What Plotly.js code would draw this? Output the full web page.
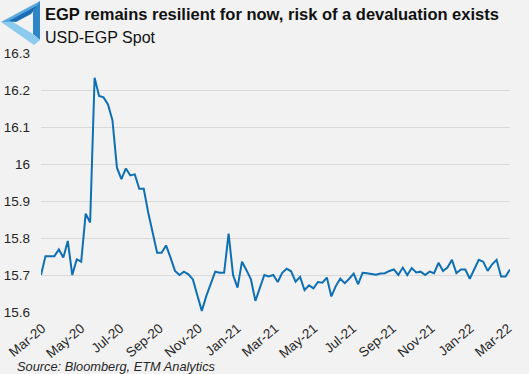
<!DOCTYPE html>
<html>
<head>
<meta charset="utf-8">
<script src="https://cdn.plot.ly/plotly-3.0.1.min.js"></script>
<style>
  html, body { margin: 0; padding: 0; background: #f2f2f2; }
  #chart { width: 529px; height: 374px; }
</style>
</head>
<body>
<div id="chart"></div>
<script>
// ---- Data (weekly USD-EGP spot) ----
const startDate = '2020-02-28';
const spotValues = [
  15.700, 15.751, 15.751, 15.751, 15.769, 15.747, 15.792, 15.700, 15.742, 15.736,
  15.866, 15.842, 16.233, 16.184, 16.180, 16.161, 16.118, 15.990, 15.959, 15.988,
  15.969, 15.972, 15.933, 15.933, 15.869, 15.810, 15.760, 15.760, 15.780, 15.747,
  15.711, 15.700, 15.709, 15.702, 15.688, 15.645, 15.603, 15.643, 15.675, 15.709,
  15.706, 15.706, 15.812, 15.700, 15.666, 15.736, 15.713, 15.688, 15.630, 15.666,
  15.700, 15.696, 15.700, 15.681, 15.706, 15.717, 15.710, 15.682, 15.695, 15.659,
  15.672, 15.664, 15.681, 15.679, 15.693, 15.642, 15.670, 15.690, 15.678, 15.690,
  15.704, 15.675, 15.706, 15.705, 15.703, 15.701, 15.704, 15.705, 15.711, 15.715,
  15.700, 15.720, 15.700, 15.719, 15.707, 15.709, 15.700, 15.709, 15.705, 15.733,
  15.711, 15.720, 15.741, 15.705, 15.715, 15.715, 15.690, 15.715, 15.741, 15.736,
  15.711, 15.729, 15.741, 15.696, 15.696, 15.715
];
const xTickVals = ['2020-03-01','2020-05-01','2020-07-01','2020-09-01','2020-11-01','2021-01-01',
                   '2021-03-01','2021-05-01','2021-07-01','2021-09-01','2021-11-01','2022-01-01','2022-03-01'];
const xTickText = ['Mar-20','May-20','Jul-20','Sep-20','Nov-20','Jan-21',
                   'Mar-21','May-21','Jul-21','Sep-21','Nov-21','Jan-22','Mar-22'];
const yTickVals = [15.6, 15.7, 15.8, 15.9, 16.0, 16.1, 16.2, 16.3];
const yTickText = ['15.6','15.7','15.8','15.9','16','16.1','16.2','16.3'];
const titleText = 'EGP remains resilient for now, risk of a devaluation exists';
const subtitleText = 'USD-EGP Spot';
const sourceText = 'Source: Bloomberg, ETM Analytics';

// weekly dates
const t0 = Date.parse(startDate + 'T00:00:00Z');
const dates = spotValues.map((v, i) => new Date(t0 + i * 7 * 86400000).toISOString().slice(0, 10));

// ---- Layout geometry ----
const W = 529, H = 374;
const M = { l: 41, r: 19, t: 53, b: 62 };
const pw = W - M.l - M.r, ph = H - M.t - M.b;
const px = x => (x - M.l) / pw;
const py = y => (H - M.b - y) / ph;

function pathFrom(pts) {
  return 'M ' + pts.map(p => px(p[0]).toFixed(4) + ',' + py(p[1]).toFixed(4)).join(' L ') + ' Z';
}
// logo: triangular frame in blue tones
const logoShapes = [
  { pts: [[1,22],[40,1],[40,8],[13,22]], color: '#5aa9de' },
  { pts: [[9,21],[38,5],[31,14],[16,22]], color: '#1a6db3' },
  { pts: [[40,1],[40,40],[33,34],[33,12]], color: '#2f86c6' },
  { pts: [[40,40],[34,45],[1,22],[13,22],[33,34]], color: '#8ccbef' }
].map(s => ({
  type: 'path', xref: 'paper', yref: 'paper', path: pathFrom(s.pts),
  fillcolor: s.color, line: { width: 0 }, layer: 'above'
}));

const textColor = '#262626';
const baseFont = 'Liberation Sans, Arial, sans-serif';

const data = [{
  type: 'scatter', mode: 'lines',
  x: dates, y: spotValues,
  line: { color: '#0f6fb3', width: 2 },
  hoverinfo: 'skip'
}];

const layout = {
  width: W, height: H,
  margin: M,
  paper_bgcolor: '#f2f2f2',
  plot_bgcolor: '#f2f2f2',
  showlegend: false,
  font: { family: baseFont, color: textColor, size: 13.5 },
  xaxis: {
    type: 'date',
    range: [dates[0], dates[dates.length - 1]],
    tickmode: 'array', tickvals: xTickVals, ticktext: xTickText,
    tickangle: -40,
    showgrid: false, zeroline: false, showline: false,
    ticks: '',
    ticklabelstandoff: 5,
    tickfont: { size: 13.5, color: textColor }
  },
  yaxis: {
    range: [15.6, 16.3],
    tickmode: 'array', tickvals: yTickVals, ticktext: yTickText,
    showgrid: true, gridcolor: '#d9d9d9', gridwidth: 1,
    zeroline: false, showline: false, ticks: '',
    ticklabelstandoff: 10,
    tickfont: { size: 13.5, color: textColor }
  },
  shapes: logoShapes,
  annotations: [
    { text: '<b>' + titleText + '</b>', xref: 'paper', yref: 'paper',
      x: px(43), y: py(14.5), xanchor: 'left', yanchor: 'middle', showarrow: false,
      font: { size: 16.5, color: '#111111', family: baseFont } },
    { text: subtitleText, xref: 'paper', yref: 'paper',
      x: px(43), y: py(37.5), xanchor: 'left', yanchor: 'middle', showarrow: false,
      font: { size: 16, color: '#111111', family: baseFont } },
    { text: '<i>' + sourceText + '</i>', xref: 'paper', yref: 'paper',
      x: px(15), y: py(366), xanchor: 'left', yanchor: 'middle', showarrow: false,
      font: { size: 12.8, color: textColor, family: baseFont } }
  ]
};

Plotly.newPlot('chart', data, layout, { staticPlot: true, displayModeBar: false });
</script>
</body>
</html>
